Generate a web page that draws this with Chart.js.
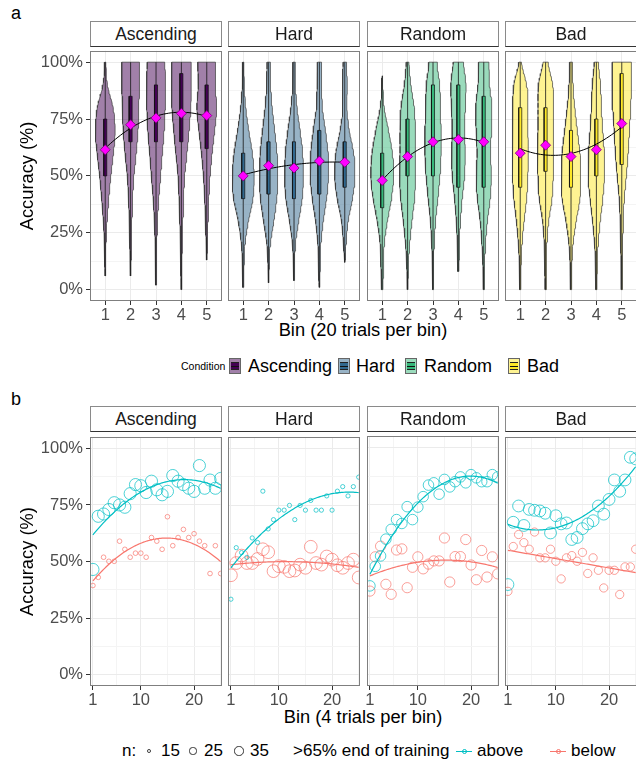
<!DOCTYPE html>
<html>
<head>
<meta charset="utf-8">
<script src="https://cdn.jsdelivr.net/npm/chart.js@4.4.1/dist/chart.umd.min.js"></script>
<style>
  body { margin: 0; background: #fff; width: 636px; height: 763px; position: relative; overflow: hidden;
         font-family: 'Liberation Sans', Arial, Helvetica, sans-serif; color: #000; }
  .strip { position: absolute; box-sizing: border-box; height: 26px; border: 1px solid #8a8a8a; border-bottom: 1px solid #333;
           background: #fff; text-align: center; font-size: 17.5px; line-height: 24px; color: #1a1a1a; z-index: 2; }
  .tag { position: absolute; font-size: 18px; line-height: 18px; }
  .xtitle { position: absolute; left: 90px; width: 546px; text-align: center; font-size: 18.3px; line-height: 20px; }
  .lg { position: absolute; white-space: nowrap; font-size: 17px; line-height: 20px; }
  .vkey { position: absolute; width: 12px; height: 16px; box-sizing: border-box; border: 1px solid #666; }
  .vkey i { position: absolute; left: 1px; right: 1px; top: 3px; height: 8px; box-sizing: border-box; border-top: 1px solid #222; border-bottom: 1px solid #222; }
  .vkey b { position: absolute; left: 1px; right: 1px; top: 7px; height: 1px; background: #111; }
  .ckey { position: absolute; border: 1px solid #333; border-radius: 50%; box-sizing: border-box; }
  .lkey { position: absolute; width: 16px; height: 10px; }
  .lkey i { position: absolute; left: 0; right: 0; top: 4.5px; height: 1px; }
  .lkey b { position: absolute; left: 5.5px; top: 2.5px; width: 5px; height: 5px; border-radius: 50%; box-sizing: border-box; border: 1px solid; }
</style>
</head>
<body>
<div class="tag" style="left:11px;top:4px">a</div>
<div class="tag" style="left:11px;top:390px">b</div>
<div class="xtitle" style="top:320px">Bin (20 trials per bin)</div>
<div class="xtitle" style="top:707px">Bin (4 trials per bin)</div>
<div id="legends"></div>
<script>
// ---------- data ----------
const conditions = ['Ascending', 'Hard', 'Random', 'Bad'];
const conditionColors = ['#440154', '#31688E', '#35B779', '#FDE725'];

// panel a: five bins of 20 trials
const bins = [1, 2, 3, 4, 5];
const densityLevels = [0, 10, 20, 30, 40, 50, 60, 70, 80, 90, 100];

const ascendingMean = [61.5, 72.5, 75.5, 77.5, 76.5];
const hardMean = [50, 54.5, 53.5, 56.5, 56];
const randomMean = [48, 58.5, 65, 66, 65];
const badMean = [60, 63.5, 58.5, 61.5, 73];

const ascendingQ1 = [50, 65, 65, 65, 62];
const ascendingQ3 = [75, 85, 90, 95, 90];
const hardQ1 = [40, 42, 40, 42, 45];
const hardQ3 = [60, 65, 65, 70, 65];
const randomQ1 = [36, 50, 50, 45, 45];
const randomQ3 = [60, 75, 90, 90, 85];
const badQ1 = [45, 52, 45, 50, 55];
const badQ3 = [80, 80, 70, 75, 95];

const ascendingMin = [6, 6, 2, 0, 13];
const ascendingMax = [100, 100, 100, 100, 100];
const hardMin = [1, 3, 4, 1, 12];
const hardMax = [100, 100, 100, 100, 100];
const randomMin = [0, 0, 0, 8, 0];
const randomMax = [94, 100, 100, 100, 100];
const badMin = [0, 0, 0, 0, 0];
const badMax = [100, 100, 100, 100, 100];

// violin half-width (bin units) at each density level
const ascendingDensity = [
  [0, 0.01, 0.03, 0.07, 0.14, 0.22, 0.32, 0.39, 0.31, 0.09, 0.02],
  [0, 0.01, 0.03, 0.05, 0.08, 0.13, 0.22, 0.29, 0.32, 0.35, 0.35],
  [0, 0.02, 0.03, 0.06, 0.11, 0.18, 0.25, 0.32, 0.36, 0.38, 0.34],
  [0.01, 0.02, 0.03, 0.06, 0.09, 0.13, 0.22, 0.30, 0.37, 0.39, 0.38],
  [0, 0, 0.02, 0.05, 0.08, 0.13, 0.21, 0.31, 0.39, 0.33, 0.36]
];
const hardDensity = [
  [0.01, 0.03, 0.07, 0.20, 0.38, 0.43, 0.36, 0.22, 0.10, 0.04, 0.02],
  [0, 0.02, 0.07, 0.20, 0.32, 0.36, 0.33, 0.24, 0.14, 0.08, 0.06],
  [0, 0.02, 0.06, 0.18, 0.32, 0.37, 0.34, 0.24, 0.12, 0.06, 0.04],
  [0.01, 0.03, 0.06, 0.15, 0.28, 0.36, 0.34, 0.24, 0.12, 0.09, 0.07],
  [0, 0, 0.05, 0.13, 0.30, 0.40, 0.35, 0.18, 0.08, 0.10, 0.06]
];
const randomDensity = [
  [0.02, 0.05, 0.08, 0.20, 0.36, 0.45, 0.40, 0.25, 0.08, 0.02, 0],
  [0.01, 0.03, 0.08, 0.17, 0.27, 0.32, 0.30, 0.30, 0.26, 0.13, 0.05],
  [0.01, 0.02, 0.05, 0.10, 0.19, 0.27, 0.32, 0.32, 0.29, 0.26, 0.16],
  [0, 0.02, 0.04, 0.08, 0.15, 0.24, 0.27, 0.24, 0.27, 0.30, 0.20],
  [0.01, 0.03, 0.07, 0.14, 0.25, 0.30, 0.26, 0.30, 0.32, 0.23, 0.20]
];
const badDensity = [
  [0.02, 0.03, 0.07, 0.15, 0.25, 0.30, 0.32, 0.30, 0.30, 0.25, 0.05],
  [0.02, 0.03, 0.05, 0.12, 0.25, 0.30, 0.33, 0.30, 0.30, 0.28, 0.10],
  [0.02, 0.03, 0.08, 0.20, 0.35, 0.38, 0.35, 0.25, 0.15, 0.08, 0.05],
  [0.02, 0.03, 0.07, 0.15, 0.25, 0.32, 0.31, 0.25, 0.20, 0.16, 0.08],
  [0.02, 0.02, 0.04, 0.06, 0.10, 0.18, 0.25, 0.30, 0.35, 0.38, 0.38]
];

// panel b: 25 bins of 4 trials, split by accuracy at end of training
const trialBins = [1, 2, 3, 4, 5, 6, 7, 8, 9, 10, 11, 12, 13, 14, 15, 16, 17, 18, 19, 20, 21, 22, 23, 24, 25];
const ascendingAbove = [46.5, 70, 71, 73, 76, 75, 74, 80, 84, 83.5, 80.5, 85.5, 81.7, 79.5, 81, 88, 85.5, 84, 82.4, 81, 92.4, 82.4, 86, 82.4, 86.7];
const ascendingBelow = [39.4, 43, 51.9, 50.1, 50.1, 59, 55.4, 51.9, 53.7, 53.7, 51.9, 60.6, 59, 55.4, 69.8, 57, 60.6, 64.2, 60.6, 62.3, 59, 57, 44.7, 57, 44.7];
const hardAbove = [33.4, 56.2, 54, 51.9, 60.5, 58.5, 81.2, 64.5, 68.6, 72.8, 72.8, 74.9, 68.6, 74.9, 72.8, 77.1, 72.8, 72.8, 79.1, 72.8, 81.2, 83.2, 79.1, 83.2, 87.4];
const hardBelow = [44, 49.4, 52.7, 49.4, 49.4, 51.2, 55.5, 54.2, 45.8, 48, 47.7, 45.8, 46.1, 48.7, 47.3, 56.6, 49.4, 48.7, 52.3, 50.9, 48.4, 47.3, 49.4, 50.9, 43];
const randomAbove = [39.1, 47.7, 52.3, 59.7, 64, 68.3, 66.6, 74, 68.3, 73.8, 78.4, 83.5, 84.5, 79.5, 86, 82.7, 85, 87.1, 84.5, 88.1, 86.7, 85, 85, 88.1, 87.1];
const randomBelow = [36.8, 51.9, 56.6, 39.8, 35.4, 54.9, 55.4, 38.3, 47.3, 51.9, 46.6, 48.7, 50.1, 50.1, 60.2, 40.8, 52, 52, 59.5, 48.3, 41.8, 54.7, 43, 51.9, 44.4];
const badAbove = [39.8, 67.3, 74.5, 65.9, 73, 72.6, 72.3, 71.3, 62.6, 70.2, 66.6, 67, 59.7, 60.6, 64.5, 66.6, 68, 74.5, 70.9, 77.4, 86, 81, 86, 96, 95.3];
const badBelow = [36.8, 56.6, 61.9, 58.3, 55.4, 63, 51.6, 51.6, 55.4, 50.1, 42.3, 51.6, 52.6, 50.1, 54, 44.7, 51.6, 46.1, 38.3, 46.1, 46.1, 35.4, 47.6, 47.6, 55.4];
// participants per group (point size)
const aboveN = [52, 16, 42, 50];
const belowN = [17, 56, 40, 30];
const sizeBreaks = [15, 25, 35];
const groupLabels = ['above', 'below'];
const groupColors = ['#00BFC4', '#F8766D'];

const yTicks = [0, 12.5, 25, 37.5, 50, 62.5, 75, 87.5, 100];
const xTicksB = [1, 5.5, 10, 15, 20, 25];
const xLabelsB = [1, 10, 20];

// ---------- helpers ----------
const FONT = "'Liberation Sans', Arial, Helvetica, sans-serif";
const plotLefts = [90, 228, 367, 505];
const plotW = 132, plotH = 255;

function rgba(hex, a) {
  const n = parseInt(hex.slice(1), 16);
  return `rgba(${n >> 16},${(n >> 8) & 255},${n & 255},${a})`;
}
function radiusFor(n) { return Math.sqrt(0.9 * (n - 11)); }

function widthAt(dens, y) {
  const t = y / 10;
  let i = Math.min(Math.floor(t), 9);
  const f = t - i;
  const p0 = dens[Math.max(i - 1, 0)], p1 = dens[i], p2 = dens[i + 1], p3 = dens[Math.min(i + 2, 10)];
  const v = 0.5 * (2 * p1 + (-p0 + p2) * f + (2 * p0 - 5 * p1 + 4 * p2 - p3) * f * f + (-p0 + 3 * p1 - 3 * p2 + p3) * f * f * f);
  return Math.max(v, 0.005);
}
function violinPoints(c, dens, lo, hi) {
  const ys = [];
  for (let y = lo; y < hi; y += 1) ys.push(y);
  ys.push(hi);
  const right = ys.map(y => ({ x: c + widthAt(dens, y), y }));
  const left = ys.slice().reverse().map(y => ({ x: c - widthAt(dens, y), y }));
  return right.concat(left, [right[0]]);
}
function boxPoints(c, q1, q3) {
  const h = 0.06;
  return [{ x: c - h, y: q1 }, { x: c + h, y: q1 }, { x: c + h, y: q3 }, { x: c - h, y: q3 }, { x: c - h, y: q1 }];
}

// least-squares quadratic trend, evaluated on a grid
function quadFit(xs, ys, grid) {
  const S = [[0, 0, 0], [0, 0, 0], [0, 0, 0]], b = [0, 0, 0];
  xs.forEach((x, i) => {
    const v = [1, x, x * x];
    for (let j = 0; j < 3; j++) {
      b[j] += v[j] * ys[i];
      for (let k = 0; k < 3; k++) S[j][k] += v[j] * v[k];
    }
  });
  const det = m => m[0][0] * (m[1][1] * m[2][2] - m[1][2] * m[2][1]) - m[0][1] * (m[1][0] * m[2][2] - m[1][2] * m[2][0]) + m[0][2] * (m[1][0] * m[2][1] - m[1][1] * m[2][0]);
  const D = det(S);
  const coef = [0, 1, 2].map(c => det(S.map((r, j) => r.map((v, k) => (k === c ? b[j] : v)))) / D);
  return grid.map(x => ({ x, y: coef[0] + coef[1] * x + coef[2] * x * x }));
}

const panelBorder = {
  id: 'panelBorder',
  afterDraw(chart) {
    const { ctx, chartArea: a } = chart;
    ctx.save();
    ctx.strokeStyle = '#7f7f7f';
    ctx.lineWidth = 1;
    ctx.strokeRect(Math.round(a.left) + 0.5, Math.round(a.top) + 0.5, Math.round(a.right - a.left) - 1, Math.round(a.bottom - a.top) - 1);
    ctx.restore();
  }
};

function makeFacet(panelTop, idx, datasets, xOpts) {
  const first = idx === 0;
  const padL = first ? 0 : 8;
  const canvasLeft = first ? 0 : plotLefts[idx] - padL;
  const w = plotLefts[idx] - canvasLeft + plotW + 8;
  const h = 1 + plotH + 30;
  const cv = document.createElement('canvas');
  cv.width = w; cv.height = h;
  cv.style.cssText = `position:absolute;left:${canvasLeft}px;top:${panelTop - 1}px;width:${w}px;height:${h}px`;
  document.body.appendChild(cv);

  const strip = document.createElement('div');
  strip.className = 'strip';
  strip.style.left = plotLefts[idx] + 'px';
  strip.style.top = (panelTop - 25) + 'px';
  strip.style.width = plotW + 'px';
  strip.textContent = conditions[idx];
  document.body.appendChild(strip);

  const zeroPad = s => { s.paddingLeft = 0; s.paddingRight = 0; s.paddingTop = 0; s.paddingBottom = 0; };
  new Chart(cv.getContext('2d'), {
    type: 'scatter',
    data: { datasets },
    plugins: [panelBorder],
    options: {
      responsive: false, animation: false, devicePixelRatio: 1,
      layout: { padding: { left: padL, right: 8, top: 1, bottom: 0 } },
      plugins: { legend: { display: false }, tooltip: { enabled: false }, filler: { propagate: false } },
      scales: {
        x: {
          type: 'linear', min: xOpts.min, max: xOpts.max,
          afterBuildTicks: s => { s.ticks = xOpts.ticks.map(v => ({ value: v })); },
          afterFit: s => { s.height = 30; zeroPad(s); },
          border: { display: false },
          grid: {
            color: c => xOpts.labels.includes(c.tick.value) ? '#EBEBEB' : '#F4F4F4',
            lineWidth: 1, tickLength: 4,
            tickColor: c => xOpts.labels.includes(c.tick.value) ? '#333' : 'rgba(0,0,0,0)'
          },
          ticks: {
            autoSkip: false, maxRotation: 0, padding: 1, color: '#4D4D4D',
            font: { family: FONT, size: 16.5 },
            callback: v => xOpts.labels.includes(v) ? String(v) : ''
          }
        },
        y: {
          min: -5, max: 105,
          afterBuildTicks: s => { s.ticks = yTicks.map(v => ({ value: v })); },
          afterFit: s => { s.width = first ? plotLefts[0] : 0; zeroPad(s); },
          border: { display: false },
          title: { display: first, text: 'Accuracy (%)', color: '#000', font: { family: FONT, size: 18.3 }, padding: { top: 17, bottom: 0 } },
          grid: {
            color: c => c.tick.value % 25 === 0 ? '#EBEBEB' : '#F4F4F4',
            lineWidth: 1, drawTicks: first, tickLength: 4,
            tickColor: c => c.tick.value % 25 === 0 ? '#333' : 'rgba(0,0,0,0)'
          },
          ticks: {
            display: first, autoSkip: false, padding: 3, color: '#4D4D4D',
            font: { family: FONT, size: 16.5 },
            callback: v => v % 25 === 0 ? v + '%' : ''
          }
        }
      }
    }
  });
}

// ---------- panel a ----------
const meansA = [ascendingMean, hardMean, randomMean, badMean];
const q1A = [ascendingQ1, hardQ1, randomQ1, badQ1];
const q3A = [ascendingQ3, hardQ3, randomQ3, badQ3];
const minA = [ascendingMin, hardMin, randomMin, badMin];
const maxA = [ascendingMax, hardMax, randomMax, badMax];
const densA = [ascendingDensity, hardDensity, randomDensity, badDensity];

conditions.forEach((cond, k) => {
  const ds = [];
  const col = conditionColors[k];
  bins.forEach((b, i) => {
    ds.push({ type: 'line', data: violinPoints(b, densA[k][i], minA[k][i], maxA[k][i]), order: 5,
      borderColor: '#3a3a3a', borderWidth: 0.7, backgroundColor: rgba(col, 0.5), fill: 'shape', pointRadius: 0, tension: 0 });
  });
  const whisk = [];
  bins.forEach((b, i) => { whisk.push({ x: b, y: minA[k][i] }, { x: b, y: maxA[k][i] }, { x: b, y: null }); });
  ds.push({ type: 'line', data: whisk, order: 4, borderColor: '#1a1a1a', borderWidth: 0.8, pointRadius: 0, spanGaps: false, fill: false });
  bins.forEach((b, i) => {
    ds.push({ type: 'line', data: boxPoints(b, q1A[k][i], q3A[k][i]), order: 3,
      borderColor: '#111', borderWidth: 0.7, backgroundColor: col, fill: 'shape', pointRadius: 0, tension: 0 });
  });
  const grid = [];
  for (let x = 1; x <= 5.0001; x += 0.1) grid.push(x);
  ds.push({ type: 'line', data: quadFit(bins, meansA[k], grid), order: 2,
    borderColor: '#000', borderWidth: 1, pointRadius: 0, fill: false, tension: 0 });
  ds.push({ type: 'scatter', data: bins.map((b, i) => ({ x: b, y: meansA[k][i] })), order: 1,
    pointStyle: 'rectRot', pointRadius: 5, backgroundColor: '#FF00FF', borderColor: '#7a007a', borderWidth: 0.8 });
  makeFacet(46, k, ds, { min: 0.4, max: 5.6, ticks: bins, labels: bins });
});

// ---------- panel b ----------
const aboveB = [ascendingAbove, hardAbove, randomAbove, badAbove];
const belowB = [ascendingBelow, hardBelow, randomBelow, badBelow];
conditions.forEach((cond, k) => {
  const grid = [];
  for (let x = 1; x <= 25.0001; x += 0.25) grid.push(x);
  const ds = [];
  [aboveB[k], belowB[k]].forEach((vals, g) => {
    ds.push({ type: 'line', data: quadFit(trialBins, vals, grid), order: 1,
      borderColor: groupColors[g], borderWidth: 1.2, pointRadius: 0, fill: false, tension: 0 });
    ds.push({ type: 'scatter', data: trialBins.map((b, i) => ({ x: b, y: vals[i] })), order: 3,
      pointRadius: radiusFor(g === 0 ? aboveN[k] : belowN[k]), borderWidth: 1,
      borderColor: rgba(groupColors[g], 0.7), backgroundColor: 'rgba(0,0,0,0)' });
  });
  makeFacet(431, k, ds, { min: 0.45, max: 25.25, ticks: xTicksB, labels: xLabelsB });
});

// ---------- legends ----------
const legendHost = document.getElementById('legends');
function put(html, left, top, cls, style) {
  const el = document.createElement('div');
  el.className = cls;
  el.style.cssText = `left:${left}px;top:${top}px;${style || ''}`;
  el.innerHTML = html;
  legendHost.appendChild(el);
}
// panel a legend
put('Condition', 181, 360, 'lg', 'font-size:10.5px;line-height:12px');
const keyLeftsA = [229, 338, 405, 508];
const labelLeftsA = [248, 356, 424, 527];
conditions.forEach((c, k) => {
  put(`<i style="background:${conditionColors[k]}"></i><b></b>`, keyLeftsA[k], 358, 'vkey', `background:${rgba(conditionColors[k], 0.5)}`);
  put(c, labelLeftsA[k], 356, 'lg', 'font-size:18px');
});
// panel b legend
put('n:', 122, 741, 'lg');
const circleCentersB = [149, 193, 239];
const sizeLabelLefts = [161, 204, 250];
sizeBreaks.forEach((n, i) => {
  const d = 2 * radiusFor(n);
  put('', circleCentersB[i] - d / 2, 751 - d / 2, 'ckey', `width:${d}px;height:${d}px`);
  put(String(n), sizeLabelLefts[i], 741, 'lg');
});
put('&gt;65% end of training', 293, 741, 'lg');
const lineKeyLefts = [456, 550];
const groupLabelLefts = [477, 571];
groupLabels.forEach((g, i) => {
  put(`<i style="background:${groupColors[i]}"></i><b style="border-color:${groupColors[i]}"></b>`, lineKeyLefts[i], 746, 'lkey');
  put(g, groupLabelLefts[i], 741, 'lg');
});
</script>
</body>
</html>
